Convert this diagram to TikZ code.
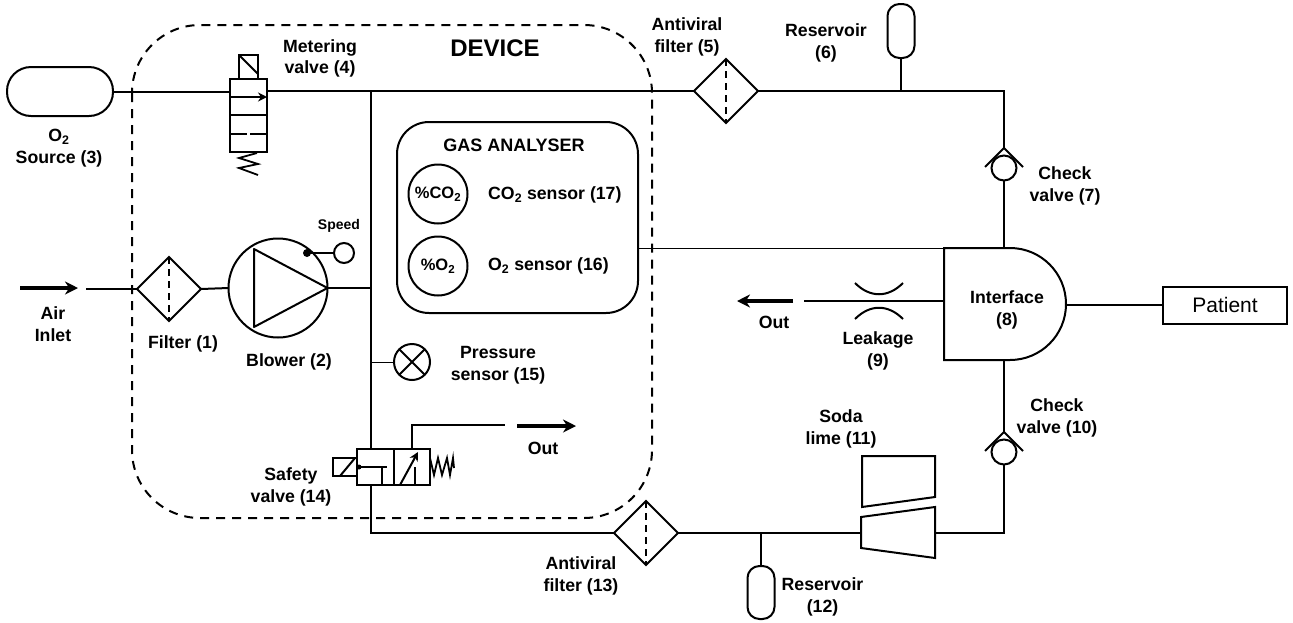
\documentclass[tikz,border=0pt]{standalone}
\usepackage{fontspec}
\setmainfont{Liberation Sans}
\usetikzlibrary{arrows.meta,calc,shapes.geometric}

\tikzset{
  pipe/.style={line width=2pt},
  thinpipe/.style={line width=1pt},
  flow/.style={-{Stealth[length=13pt,width=13pt]},line width=3.4pt},
  tip/.style={-{Stealth[length=9pt,width=9pt]}},
  lbl/.style={font=\bfseries\fontsize{17.7}{21.5}\selectfont,align=center,inner sep=0pt},
  filterbox/.style={draw,pipe,diamond,minimum width=64pt,minimum height=64pt,inner sep=0pt,outer sep=0pt},
  capsule/.style={draw,pipe,rectangle,rounded corners=#1,inner sep=0pt,outer sep=0pt},
  ring/.style={draw,pipe,circle,inner sep=0pt,outer sep=0pt,minimum size=#1},
  body/.style={draw,pipe,rectangle,inner sep=0pt,outer sep=0pt}
}

\begin{document}
\begin{tikzpicture}[>=stealth,x=1pt,y=-1pt]
  \useasboundingbox (0,0) rectangle (1293,622);

  \draw[dashed,line width=2pt,dash pattern=on 9pt off 7pt,rounded corners=68pt]
    (132,25) rectangle (652,518);

  \node[capsule=24pt,minimum width=106pt,minimum height=49pt] (Source) at (60,91.5) {};
  \node[capsule=12pt,minimum width=27pt,minimum height=54pt] (ReservoirTop) at (901,31) {};
  \node[capsule=12pt,minimum width=27pt,minimum height=53pt] (ReservoirBottom) at (761,592.5) {};
  \node[body,minimum width=124pt,minimum height=37pt] (Patient) at (1225,305)
    {\fontsize{21}{25}\selectfont Patient};

  \foreach \name/\x/\y in {FilterAir/169/289,FilterTop/726/91,FilterBottom/646/533} {
    \node[filterbox] (\name) at (\x,\y) {};
    \draw[pipe,dash pattern=on 7pt off 5pt] (\name.north) -- (\name.south);
  }

  \foreach \name/\x/\y in {CheckTop/1004/168,CheckBottom/1004/452} {
    \node[ring=25pt] (\name) at (\x,\y) {};
    \coordinate (\name-apex) at (\x,\y-20);
    \draw[pipe] (\x-19,\y-1) -- (\name-apex) -- (\x+19,\y-1);
  }

  % metering valve
  \node[body,minimum width=37pt,minimum height=73pt] (Metering) at (248.5,115.5) {};
  \node[body,minimum width=19pt,minimum height=24pt,anchor=south] (MeteringCoil) at (Metering.north) {};
  \draw[pipe] (MeteringCoil.north west) -- ($(MeteringCoil.south east)+(0,-5)$);
  \draw[pipe,tip] (Metering.west|-0,97) -- (Metering.east|-0,97);
  \draw[pipe] (Metering.west|-0,115) -- (Metering.east|-0,115);
  \draw[pipe] (Metering.west|-0,133.5) -- (247,133.5) (250,133.5) -- (Metering.east|-0,133.5);
  \draw[line width=1.8pt] (257,153) -- (239,158) -- (258,164) -- (239,168) -- (258,175);

  % blower
  \node[ring=99pt] (Blower) at (278,288) {};
  \draw[pipe,line join=round] (254,249) -- (254,327) -- (Blower.east) -- cycle;
  \node[ring=20pt] (Speed) at (344,253) {};
  \fill (307,253) circle (4pt) coordinate (SpeedDot);
  \draw[pipe] (SpeedDot) -- (Speed);

  % analyser
  \node[capsule=32pt,minimum width=241pt,minimum height=191pt] (Analyser) at (517.5,217.5) {};
  \node[ring=59pt] (CarbonSensor) at (438,194) {\bfseries\fontsize{16.5}{20}\selectfont\%CO\textsubscript{2}};
  \node[ring=59pt] (OxygenSensor) at (438,266) {\bfseries\fontsize{16.5}{20}\selectfont\%O\textsubscript{2}};
  \node[ring=36pt,draw] (Pressure) at (412,362) {};
  \draw[pipe] (Pressure.north west) -- (Pressure.south east)
              (Pressure.north east) -- (Pressure.south west);

  % safety valve
  \node[body,minimum width=73pt,minimum height=36pt] (Safety) at (393.5,467) {};
  \draw[pipe] (Safety.north) -- (Safety.south);
  \node[body,minimum width=24pt,minimum height=18pt,anchor=east] (SafetyCoil) at (Safety.west) {};
  \draw[pipe] (340,476) -- (355,458);
  \fill (359,467) circle (2.5pt);
  \draw[pipe] (359,467) -- (387,467) (382,467) -- (382,485);
  \draw[pipe,tip] (400,485) -- (418,452);
  \draw[pipe] (415,485) -- (415,467);
  \draw[line width=1.8pt] (430,458) -- (434,475) -- (438,458) -- (442,475) -- (447,458) -- (450,475) -- (453,458) -- (454,468);

  % interface, soda lime, leakage
  \draw[pipe] (944,248) coordinate (InterfaceA) -- (1010,248) arc[start angle=90,end angle=-90,radius=56pt] -- (944,360) coordinate (InterfaceB) -- cycle;
  \node[lbl] (Interface) at (1007,310) {Interface\\(8)};
  \coordinate (InterfaceEast) at (1066,305);
  \draw[pipe] (862,456) -- (935,456) -- (935,497) -- (862,507) -- cycle;
  \draw[pipe] (861,517) -- (935,507) -- (935,558) -- (861,548) -- cycle;
  \coordinate (SodaWest) at (861,533);
  \coordinate (SodaEast) at (935,533);
  \draw[pipe] (855,283) .. controls (870,298) and (888,298) .. (903,283);
  \draw[pipe] (855,319) .. controls (870,304) and (888,304) .. (903,319);

  \coordinate (TopJoint) at (371,91);
  \coordinate (BottomJoint) at (371,533);
  \coordinate (RightTop) at (1004,91);
  \coordinate (RightBottom) at (1004,533);

  \draw[pipe] (Source.east) -- (Source.east-|Metering.west);
  \draw[pipe] (Metering.east|-0,91) -- (TopJoint) -- (FilterTop.west);
  \draw[pipe] (FilterTop.east) -- (RightTop) -- (CheckTop-apex);
  \draw[pipe] (ReservoirTop.south) -- (ReservoirTop.south|-RightTop);
  \draw[pipe] (CheckTop.south) -- (1004,248);
  \draw[pipe] (TopJoint) -- (Safety.north-|TopJoint);
  \draw[pipe] (Safety.south-|TopJoint) -- (BottomJoint) -- (FilterBottom.west);
  \draw[pipe] (FilterBottom.east) -- (SodaWest);
  \draw[pipe] (ReservoirBottom.north) -- (ReservoirBottom.north|-BottomJoint);
  \draw[pipe] (SodaEast) -- (RightBottom) -- (CheckBottom.south);
  \draw[pipe] (CheckBottom-apex) -- (1004,360);
  \draw[pipe] (86,289) -- (FilterAir.west);
  \draw[pipe] (FilterAir.east) -- (Blower.west);
  \draw[pipe] (Blower.east) -- (Blower.east-|TopJoint);
  \draw[thinpipe] (Analyser.east|-InterfaceA) -- (InterfaceA);
  \draw[thinpipe] (Pressure.west-|TopJoint) -- (Pressure.west);
  \draw[pipe] (804,301) -- (944,301);
  \draw[pipe] (InterfaceEast) -- (Patient.west);
  \draw[pipe] (412,449) -- (412,425) -- (505,425);

  \draw[flow] (20,288) -- (78,288);
  \draw[flow] (517,426) -- (576,426);
  \draw[flow] (793,301) -- (737,301);

  \node[lbl] (DeviceLabel) at (495,48) {\fontsize{24}{28}\selectfont DEVICE};
  \node[lbl] (MeteringLabel) at (320,58.5) {Metering\\valve (4)};
  \node[lbl] (SourceLabel) at (59,148) {O\textsubscript{2}\\Source (3)};
  \node[lbl] (FilterTopLabel) at (687,37) {Antiviral\\filter (5)};
  \node[lbl] (ReservoirTopLabel) at (826,43) {Reservoir\\(6)};
  \node[lbl] (CheckTopLabel) at (1065,186) {Check\\valve (7)};
  \node[lbl] (AnalyserLabel) at (514,145) {\fontsize{18}{21}\selectfont GAS ANALYSER};
  \node[lbl,anchor=west] (CarbonLabel) at (488,195) {CO\textsubscript{2} sensor (17)};
  \node[lbl,anchor=west] (OxygenLabel) at (488,266) {O\textsubscript{2} sensor (16)};
  \node[lbl] (AirLabel) at (53,324) {Air\\Inlet};
  \node[lbl] (FilterAirLabel) at (183,344) {Filter (1)};
  \node[lbl] (BlowerLabel) at (289,362) {Blower (2)};
  \node[lbl] (SpeedLabel) at (339,226) {\fontsize{14}{17}\selectfont Speed};
  \node[lbl] (PressureLabel) at (498,365) {Pressure\\sensor (15)};
  \node[lbl] (SafetyLabel) at (291,487) {Safety\\valve (14)};
  \node[lbl] (OutRightLabel) at (543,448) {Out};
  \node[lbl] (OutLeftLabel) at (774,322) {Out};
  \node[lbl] (LeakageLabel) at (878,351) {Leakage\\(9)};
  \node[lbl] (SodaLabel) at (841,429) {Soda\\lime (11)};
  \node[lbl] (CheckBottomLabel) at (1057,418) {Check\\valve (10)};
  \node[lbl] (FilterBottomLabel) at (581,576) {Antiviral\\filter (13)};
  \node[lbl] (ReservoirBottomLabel) at (822.5,597) {Reservoir\\(12)};
\end{tikzpicture}
\end{document}
